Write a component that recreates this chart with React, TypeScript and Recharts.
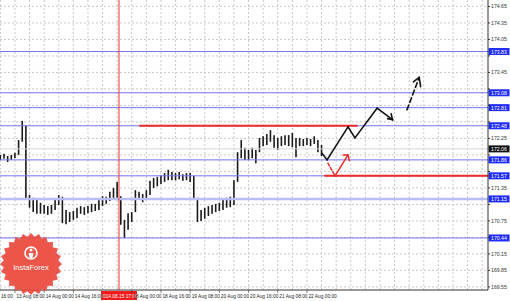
import React from "react";
import { ComposedChart, Bar, XAxis, YAxis, CartesianGrid, ReferenceLine } from "recharts";

// trading hours counted from 12 Aug 16:00 (weekend skipped), 2-hour bars
const hours = [
  8, 10, 12, 14, 16, 18, 20, 22, 24, 26, 28, 30, 32, 34, 36, 38, 40, 42, 44, 46,
  48, 50, 52, 54, 56, 58, 60, 62, 64, 66, 68, 70, 72, 74, 76, 78, 80, 82, 84, 86,
  88, 90, 92, 94, 96, 98, 100, 102, 104, 106, 108, 110, 112, 114, 116, 118, 120, 122, 124, 126,
  128, 130, 132, 134, 136, 138, 140, 142, 144, 146, 148, 150, 152, 154, 156, 158, 160, 162, 164, 166,
  168, 170, 172, 174, 176, 178, 180, 182, 184,
];
const highs = [
  171.95, 171.97, 171.93, 171.95, 171.99, 172.22, 172.57, 172.48, 171.22, 171.17,
  171.13, 171.08, 171.04, 171.02, 171.04, 171.13, 171.22, 171.19, 170.95, 170.91,
  170.93, 170.99, 171.02, 171.0, 171.02, 171.06, 171.06, 171.13, 171.2, 171.19,
  171.28, 171.35, 171.46, 171.2, 170.77, 170.89, 170.91, 171.31, 171.28, 171.24,
  171.31, 171.48, 171.53, 171.55, 171.58, 171.62, 171.68, 171.64, 171.62, 171.64,
  171.6, 171.62, 171.62, 171.57, 171.17, 170.95, 170.99, 171.02, 171.04, 171.06,
  171.08, 171.13, 171.17, 171.19, 171.49, 172.0, 172.22, 172.08, 172.04, 172.08,
  172.04, 172.26, 172.29, 172.33, 172.4, 172.31, 172.26, 172.29, 172.31, 172.31,
  172.35, 172.26, 172.26, 172.24, 172.26, 172.24, 172.29, 172.22, 172.13,
];
const lows = [
  171.86, 171.88, 171.82, 171.86, 171.89, 171.95, 172.19, 171.13, 170.99, 170.91,
  170.88, 170.88, 170.88, 170.86, 170.88, 170.95, 171.04, 170.71, 170.69, 170.73,
  170.77, 170.8, 170.88, 170.86, 170.89, 170.91, 170.93, 170.95, 171.02, 171.06,
  171.11, 171.15, 171.17, 170.68, 170.44, 170.59, 170.73, 170.91, 171.13, 171.09,
  171.13, 171.22, 171.35, 171.38, 171.42, 171.46, 171.49, 171.49, 171.49, 171.51,
  171.48, 171.49, 171.46, 171.13, 170.73, 170.75, 170.79, 170.84, 170.88, 170.91,
  170.93, 170.95, 170.99, 171.0, 171.04, 171.46, 171.89, 171.86, 171.86, 171.89,
  171.8, 172.0, 172.11, 172.13, 172.19, 172.08, 172.04, 172.11, 172.13, 172.11,
  172.09, 171.91, 172.11, 172.11, 172.13, 172.11, 172.15, 172.0, 171.93,
];

const priceTicks = [
  169.55, 169.85, 170.15, 170.45, 170.75, 171.05, 171.35, 171.65, 171.95,
  172.25, 172.55, 172.85, 173.15, 173.45, 173.75, 174.05, 174.35, 174.65,
];
const gridHours = [
  8, 16, 24, 32, 40, 48, 56, 64, 72, 80, 88, 96, 104, 112, 120, 128, 136, 144,
  152, 160, 168, 176, 184, 192, 200, 208, 216, 224, 232, 240, 248, 256, 264, 272,
];
const labelHours = [16, 32, 48, 80, 96, 112, 128, 144, 160, 176];
const labelTexts = [
  "13 Aug 08:00", "14 Aug 00:00", "14 Aug 16:00", "18 Aug 00:00", "18 Aug 16:00",
  "19 Aug 08:00", "20 Aug 00:00", "20 Aug 16:00", "21 Aug 08:00", "22 Aug 00:00",
];
const firstLabel = "16:00"; // the visible part of the label cut off at the left edge

const blueLevels = [173.83, 173.08, 172.81, 172.48, 171.86, 171.57, 170.44];
const thickLevel = 171.15;
const currentPrice = 172.06;
const markerHour = 73;
const markerText = "2014.08.15 17:00";

const redUpper = [{ i: 84.5, p: 172.48 }, { i: 203.4, p: 172.48 }];
const redLower = [{ i: 185.9, p: 171.57 }, { i: 275.2, p: 171.57 }];

const blackPath = [
  { i: 184.2, p: 171.98 }, { i: 187, p: 171.86 }, { i: 198.5, p: 172.46 },
  { i: 202.3, p: 172.26 }, { i: 214.4, p: 172.8 }, { i: 222.9, p: 172.59 },
];
const blackHead = [{ i: 220.2, p: 172.61 }, { i: 222.9, p: 172.59 }, { i: 222.1, p: 172.7 }];
const dashedPath = [{ i: 230.8, p: 172.77 }, { i: 237.5, p: 173.36 }];
const dashedHead = [{ i: 234.3, p: 173.28 }, { i: 237.5, p: 173.36 }, { i: 238.3, p: 173.19 }];
const redDash = [{ i: 187.5, p: 171.8 }, { i: 191.4, p: 171.57 }];
const redSolid = [{ i: 191.4, p: 171.57 }, { i: 198.5, p: 171.95 }];
const redHead = [{ i: 195.9, p: 171.95 }, { i: 198.5, p: 171.95 }, { i: 199.2, p: 171.85 }];

const bars = hours.map((h, k) => ({ i: h, range: [lows[k], highs[k]] }));

const FONT = "Liberation Sans, Arial, sans-serif";
const tagLevels = [...blueLevels, thickLevel, currentPrice];

type Pt = { i: number; p: number };

function drawPath(pts: Pt[], key: string, color: string, width: number, dash?: string) {
  const out = [];
  for (let k = 1; k < pts.length; k++) {
    out.push(
      <ReferenceLine
        key={`${key}-${k}`}
        segment={[{ x: pts[k - 1].i, y: pts[k - 1].p }, { x: pts[k].i, y: pts[k].p }]}
        stroke={color}
        strokeWidth={width}
        strokeDasharray={dash}
        strokeLinecap="round"
        ifOverflow="visible"
      />
    );
  }
  return out;
}

function TimeTick(props: any) {
  const { x, y, payload } = props;
  if (payload.value === 8) {
    return (
      <text x={x + 0.6} y={y + 7.8} fontSize={4.8} fontFamily={FONT} fill="#222">
        {firstLabel}
      </text>
    );
  }
  const idx = labelHours.indexOf(payload.value);
  if (idx < 0) return <g />;
  return (
    <g>
      <line x1={x} x2={x} y1={y} y2={y + 3} stroke="#333" strokeWidth={0.6} />
      <text x={x + 1.5} y={y + 7.8} fontSize={4.8} fontFamily={FONT} fill="#222">
        {labelTexts[idx]}
      </text>
    </g>
  );
}

function PriceTag(props: any) {
  const { viewBox, value, bg } = props;
  if (!viewBox) return null;
  const x = viewBox.x + viewBox.width;
  const y = viewBox.y;
  return (
    <g>
      <rect x={x + 0.5} y={y - 3.5} width={21} height={7} fill={bg} />
      <text x={x + 3} y={y + 2} fontSize={5.2} fontFamily={FONT} fill="#fff">
        {value.toFixed(2)}
      </text>
    </g>
  );
}

function TimeTag(props: any) {
  const { viewBox } = props;
  if (!viewBox) return null;
  const x = viewBox.x;
  const y = viewBox.y + viewBox.height;
  return (
    <g>
      <rect x={x - 18} y={y + 1} width={36} height={9} fill="#f21b1b" />
      <text x={x} y={y + 7.8} fontSize={4.8} fontFamily={FONT} fill="#fff" textAnchor="middle">
        {markerText}
      </text>
    </g>
  );
}

function Logo() {
  const cx = 31;
  const cy = 264;
  const pts: string[] = [];
  for (let k = 0; k < 48; k++) {
    const a = (k / 48) * Math.PI * 2;
    const r = k % 2 === 0 ? 31 : 27.5;
    pts.push(`${cx + r * Math.cos(a)},${cy + r * Math.sin(a)}`);
  }
  return (
    <svg width={510} height={301} style={{ position: "absolute", left: 0, top: 0, pointerEvents: "none" }}>
      <polygon points={pts.join(" ")} fill="#e94a3f" opacity={0.92} />
      <circle cx={cx} cy={cy} r={25} fill="#ec5548" />
      <circle cx={cx} cy={cy - 11} r={6} fill="none" stroke="#fff" strokeWidth={1.6} />
      <circle cx={cx} cy={cy - 14} r={1.5} fill="#fff" />
      <path d={`M${cx - 2.5},${cy - 11} L${cx + 2.5},${cy - 11} L${cx + 1.5},${cy - 6} L${cx - 1.5},${cy - 6} Z`} fill="#fff" />
      <text x={cx} y={cy + 6} fontSize={7.5} fontFamily={FONT} fill="#fff" textAnchor="middle">
        InstaForex
      </text>
    </svg>
  );
}

export default function App() {
  return (
    <div style={{ position: "absolute", left: 0, top: 0, width: 510, height: 301, background: "#fff" }}>
      <ComposedChart width={510} height={301} data={bars} margin={{ top: 0, right: 0, bottom: 0, left: 0 }}>
        <CartesianGrid
          stroke="#c9c9c9"
          strokeDasharray="2 2"
          horizontalValues={priceTicks}
          verticalValues={gridHours}
        />
        <XAxis
          dataKey="i"
          type="number"
          domain={[7.8, 275.2]}
          ticks={gridHours}
          interval={0}
          height={11}
          tickSize={0}
          tickMargin={0}
          tick={<TimeTick />}
          stroke="#333"
          allowDataOverflow
        />
        <YAxis
          orientation="right"
          type="number"
          domain={[169.494, 174.767]}
          ticks={priceTicks}
          interval={0}
          width={22}
          tickSize={2}
          tickMargin={1}
          tick={{ fontSize: 5.2, fontFamily: FONT, fill: "#333" }}
          tickFormatter={(v: number) => (tagLevels.some((l) => Math.abs(l - v) < 0.1) ? "" : v.toFixed(2))}
          stroke="#333"
          allowDataOverflow
        />
        <ReferenceLine y={thickLevel} stroke="#b9bff6" strokeWidth={2.5}
          label={(p: any) => <PriceTag {...p} value={thickLevel} bg="#1f2bff" />} />
        {blueLevels.map((v) => (
          <ReferenceLine key={v} y={v} stroke="#7474f2" strokeWidth={1}
            label={(p: any) => <PriceTag {...p} value={v} bg="#1f2bff" />} />
        ))}
        <ReferenceLine y={currentPrice} stroke="#d6d6d6" strokeWidth={1}
          label={(p: any) => <PriceTag {...p} value={currentPrice} bg="#111" />} />
        <ReferenceLine x={markerHour} stroke="#f23030" strokeWidth={1} label={(p: any) => <TimeTag {...p} />} />
        <Bar dataKey="range" fill="#1a1a1a" barSize={1.6} isAnimationActive={false} />
        {drawPath(redUpper, "ru", "#ee2a2a", 2)}
        {drawPath(redLower, "rl", "#ee2a2a", 2)}
        {drawPath(blackPath, "bp", "#111", 1.6)}
        {drawPath(blackHead, "bh", "#111", 1.6)}
        {drawPath(dashedPath, "dp", "#111", 1.6, "5 3")}
        {drawPath(dashedHead, "dh", "#111", 1.6)}
        {drawPath(redDash, "rd", "#ee2a2a", 1.5, "3 2")}
        {drawPath(redSolid, "rs", "#ee2a2a", 1.5)}
        {drawPath(redHead, "rh", "#ee2a2a", 1.5)}
      </ComposedChart>
      <Logo />
    </div>
  );
}
